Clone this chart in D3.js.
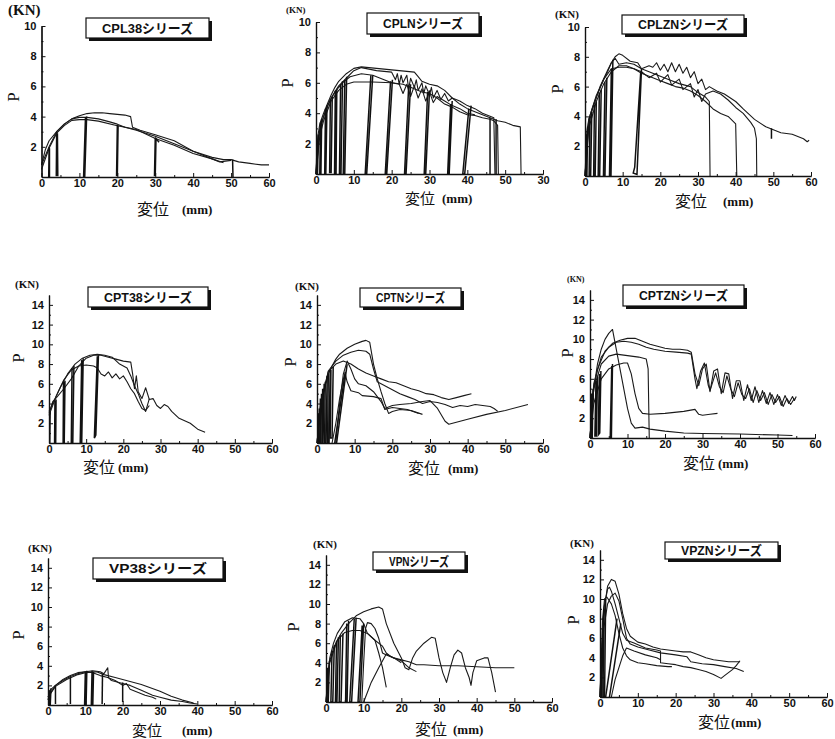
<!DOCTYPE html>
<html>
<head>
<meta charset="utf-8">
<script src="https://cdn.jsdelivr.net/npm/d3@7"></script>
<style>
  body { margin: 0; background: #fff; }
  svg { display: block; }
  .tick text { font-family: "Liberation Sans", Arial, sans-serif; font-weight: bold; font-size: 11px; fill: #111; }
  .domain, .tick line { stroke: #111; }
</style>
</head>
<body>
<svg id="viz"></svg>
<script>
  // curves are [x(mm), P(kN)], loops are the unload/reload strokes
  var xTickVals = [0, 10, 20, 30, 40, 50, 60];
  var xTickLabels = ["0", "10", "20", "30", "40", "50", "60"];
  var cplnXTickLabels = ["0", "10", "20", "30", "40", "50", "30"]; // misprint kept from the source
  var yTicks10 = [2, 4, 6, 8, 10];
  var yTicks14 = [2, 4, 6, 8, 10, 12, 14];
  var titles = ["CPL38シリーズ", "CPLNシリーズ", "CPLZNシリーズ", "CPT38シリーズ", "CPTNシリーズ", "CPTZNシリーズ", "VP38シリーズ", "VPNシリーズ", "VPZNシリーズ"];

  var cpl38Curves = [
    [[0,0.8],[1,1.8],[2,2.4],[4,3.0],[6,3.5],[8,3.85],[10,4.05],[12,4.2],[14,4.25],[16,4.25],[18,4.2],[20,4.15],[22,4.1],[23.5,4.0],[24,3.3],[26,3.1],[30,2.8],[35,2.4],[40,1.7],[45,1.3],[48,1.15],[50,1.15],[52,1.0],[55,0.9],[58,0.8],[60,0.8]],
    [[0,0.8],[2,2.0],[4,3.0],[6,3.5],[8,3.85],[10,3.95],[12,3.95],[15,3.85],[18,3.65],[20,3.5],[22,3.3],[25,3.1],[30,2.7],[35,2.2],[40,1.7],[45,1.2],[47,1.0],[50,1.1]],
    [[0,0.5],[2,1.9],[4,2.9],[6,3.4],[8,3.75],[10,3.8],[12,3.8],[15,3.7],[20,3.4],[25,3.15],[30,2.55],[35,2.1],[40,1.55],[45,1.2],[48,0.95]]
  ];
  var cpl38Loops = [
    [[2.0,1.95],[1.9,0],[2.1,0],[2.1,1.9]],
    [[4.0,3.0],[3.9,0.1],[4.3,0.1],[4.2,2.9]],
    [[11.6,3.95],[11.1,0],[11.4,0],[11.9,4.0]],
    [[20.0,3.45],[19.8,0.1],[20.0,0.1],[20.2,3.4]],
    [[30.0,2.6],[29.8,0.1],[30.0,0.1],[30.2,2.55],[31,2.3]],
    [[50.4,1.15],[50.5,0]]
  ];

  var cplnCurves = [
    [[0,0],[0.5,2.5],[1,3.3],[2,4.0],[3,4.6],[4,5.2],[5,5.7],[6,6.1],[8,6.6],[10,6.95],[12,7.05],[14,7.0],[16,6.95],[18,6.9],[20,6.85],[22,6.8],[24,6.75],[26,6.7],[27,6.4],[28,6.1],[30,5.9],[32,5.8],[34,5.5],[36,5.0],[38,4.6],[40,4.3],[42,4.1],[44,3.9],[46,3.7],[48,3.5],[50,3.4],[52,3.2],[54,3.1],[54.2,0]],
    [[0,0],[0.5,2.3],[2,3.8],[4,5.0],[6,5.8],[8,6.3],[10,6.8],[12,7.0],[14,6.9],[16,6.8],[18,6.75],[20,6.7],[21,6.2],[21.5,6.6],[22,5.9],[22.5,6.5],[23,6.0],[24,6.5],[24.5,5.6],[25,6.3],[26,5.7],[26.5,6.2],[27,5.5],[28,6.0],[28.5,5.3],[29,5.8],[30,5.2],[30.5,5.7],[31,5.0],[32,5.5],[33,4.9],[34,5.3],[35,4.8],[36,5.0],[38,4.8],[40,4.5],[42,4.3],[44,4.0],[46,3.8],[47,3.7],[47.3,0]],
    [[0,0],[1,3.0],[3,4.5],[5,5.4],[7,6.0],[9,6.4],[12,6.6],[15,6.5],[18,6.2],[20,6.0],[22,5.9],[23,5.3],[24,5.9],[25,5.1],[26,5.8],[27,5.0],[28,5.6],[29,4.8],[30,5.4],[31,4.7],[32,5.1],[34,4.8],[36,4.5],[38,4.3],[40,4.0],[42,3.9]],
    [[0,0],[1,2.5],[2,3.5],[4,4.8],[6,5.5],[8,5.9],[10,6.05],[15,6.05],[20,6.0],[23,5.9],[25,5.7],[28,5.4],[30,5.3],[32,5.0],[34,4.6],[36,4.4],[38,4.1],[40,3.9],[42,3.85],[44,3.7],[46,3.6],[47,3.5],[48,3.2],[48.2,0]]
  ];
  var cplnLoops = [
    [[0.3,2.2],[0.1,0],[0.4,0],[0.6,2.6]],
    [[1.2,3.4],[1.0,0],[1.3,0],[1.5,3.6]],
    [[2.5,4.3],[2.3,0],[2.6,0],[2.9,4.5]],
    [[3.8,4.9],[3.6,0.1],[4.0,0.1],[4.3,5.1]],
    [[5.1,5.5],[4.9,0],[5.3,0],[5.5,5.6]],
    [[6.5,5.9],[6.2,0],[6.6,0],[7.0,6.1]],
    [[7.6,6.2],[7.2,0],[7.6,0],[8.1,6.4]],
    [[14.5,6.5],[13.0,0],[13.4,0],[15.0,6.5]],
    [[19.7,6.1],[18.3,0],[18.7,0],[20.2,6.2]],
    [[24.5,5.8],[23.4,0],[23.8,0],[25.0,5.9]],
    [[29.5,5.4],[28.6,0],[29.0,0],[30.0,5.5]],
    [[35.6,4.6],[34.8,0],[35.2,0],[36.0,4.8]],
    [[40.4,4.3],[38.8,0],[39.3,0],[41.0,4.5]],
    [[46.0,3.7],[46.0,0]],
    [[47.6,3.6],[47.6,0]]
  ];

  var cplznCurves = [
    [[0,0],[0.5,3.0],[1,3.8],[2,4.6],[3,5.3],[4,5.9],[5,6.5],[6,7.0],[7,7.6],[8,8.0],[9,8.2],[10,8.1],[12,7.7],[14,7.6],[15,7.2],[17,7.0],[20,6.7],[22,6.5],[25,6.2],[28,6.0],[30,5.6],[32,5.3],[33,5.0],[33.2,0]],
    [[0,0],[1,3.5],[2,4.5],[4,6.0],[6,7.1],[7,7.6],[8,7.9],[9,7.5],[11,7.6],[13,7.5],[15,7.2],[17,7.4],[18,7.3],[19,7.6],[20,7.1],[21,7.5],[22,7.0],[23,7.6],[24,7.0],[25,7.5],[26,6.9],[27,7.3],[28,6.6],[29,7.0],[30,6.2],[31,6.5],[32,5.8],[33,6.0],[35,5.7],[37,5.5],[40,5.0],[42,4.5],[45,3.8],[48,3.3],[50,3.1],[52,2.9],[55,2.8],[58,2.5],[59,2.3],[59.5,2.4]],
    [[0,0],[1,3.8],[3,5.4],[5,6.5],[7,7.2],[9,7.3],[11,7.3],[13,7.2],[15,7.0],[17,6.6],[19,6.9],[20,6.3],[22,6.8],[23,6.1],[25,6.5],[26,5.8],[28,6.2],[29,5.3],[30,5.8],[31,5.0],[32,5.5],[34,5.7],[36,5.5],[38,5.1],[40,4.6],[42,4.2],[44,3.6],[45,3.2],[45.5,2.5],[45.6,0]],
    [[0,0],[1,3.2],[3,5.0],[5,6.2],[7,7.0],[9,7.4],[11,7.4],[13,7.2],[15,6.9],[18,6.6],[20,6.4],[22,6.2],[24,6.0],[26,5.9],[28,5.7],[30,5.4],[32,5.0],[34,4.5],[36,4.2],[38,4.0],[40,3.5],[40.3,0]]
  ];
  var cplznLoops = [
    [[0.3,2.8],[0.2,0],[0.5,0],[0.7,3.3]],
    [[1.3,4.0],[1.1,0],[1.5,0],[1.8,4.3]],
    [[2.5,4.8],[2.3,0],[2.7,0],[3.0,5.0]],
    [[3.8,5.6],[3.5,0],[3.9,0],[4.3,5.8]],
    [[5.3,6.3],[4.9,0],[5.3,0],[5.8,6.6]],
    [[7.0,7.2],[6.5,0],[6.9,0],[7.4,7.8]],
    [[14.8,7.0],[13.2,0.6],[12.8,0.2],[13.8,0.1],[15.0,7.2]],
    [[49.5,3.2],[49.5,2.5]]
  ];

  var cpt38Curves = [
    [[0,3.0],[0.5,3.5],[1,4.2],[2,4.6],[4,5.5],[6,6.5],[8,7.8],[10,8.6],[12,8.9],[14,8.9],[16,8.7],[18,8.5],[20,8.3],[22,8.2],[22.5,7.0],[23,5.5],[23.5,6.8],[24,5.2],[25,4.5],[26,5.6],[27,4.4],[28,4.5],[29,3.8],[30,3.5],[31,3.9],[32,3.7],[33,3.2],[35,2.5],[38,2.0],[40,1.4],[42,1.1]],
    [[0,3.2],[1,4.0],[3,5.6],[5,7.0],[7,8.0],[9,8.6],[11,8.9],[13,9.0],[15,8.9],[17,8.7],[19,8.0],[21,7.6],[22,6.8],[23,5.8],[24,5.0],[25,4.0],[26,3.2],[27,4.5]],
    [[0,2.8],[2,4.8],[4,6.4],[6,7.4],[8,7.8],[10,7.9],[12,7.8],[13,7.6],[14,7.0],[15,6.8],[16,7.2],[17,6.6],[18,7.0],[19,6.5],[20,6.8],[21,6.2],[22,5.5],[23,5.0],[24,4.2],[25,3.5],[26,3.3],[27,3.8]]
  ];
  var cpt38Loops = [
    [[0.2,0],[0.3,3.2]],
    [[1.6,4.3],[1.5,0],[1.8,0],[1.9,4.4]],
    [[3.9,6.2],[3.8,0],[4.1,0],[4.3,6.3]],
    [[6.2,7.6],[6.0,0],[6.4,0],[6.7,7.8]],
    [[8.8,8.4],[8.4,0],[8.8,0],[9.2,8.6]],
    [[13.0,8.8],[12.2,0.5],[12.6,0.8],[13.3,8.9]]
  ];

  var cptnCurves = [
    [[0,0],[1,3.5],[2,5.5],[3,7.0],[4,7.8],[5,8.5],[6,9.0],[8,9.6],[10,10.0],[12,10.3],[13,10.4],[14,10.2],[15,8.0],[16,6.5],[17,5.2],[18,4.0],[19,3.0],[20,3.2],[22,3.4],[25,3.3],[28,2.9]],
    [[0,0],[1,4],[3,7.3],[5,8.3],[7,8.9],[9,9.2],[11,9.4],[13,9.3],[14,9.0],[15,7.5],[16,6.2],[18,5.8],[20,5.4],[22,5.0],[24,4.7],[26,4.4],[28,4.0],[30,4.2],[32,4.1],[34,3.9],[36,3.6],[38,3.8],[40,3.7],[42,3.9],[44,3.8],[46,3.7],[47,3.5],[48,3.2]],
    [[0,0],[1,4],[3,7.2],[5,8.0],[7,8.3],[9,8.0],[11,7.5],[13,7.1],[15,6.8],[17,6.5],[19,6.2],[21,6.1],[23,5.8],[25,5.5],[27,5.3],[29,5.0],[31,4.9],[33,4.6],[35,4.4],[37,4.6],[39,4.8],[41,5.0]],
    [[5,0],[6,4],[7,7],[8,8.3],[9,7.5],[10,6.5],[11,6.0],[13,5.8],[15,5.2],[17,4.2],[18,3.5],[20,3.8],[22,3.9],[25,4.0],[28,4.2],[30,4.3],[32,3.5],[34,2.2],[35,1.9],[40,2.4],[45,2.9],[50,3.3],[55,3.8],[56,3.9]],
    [[4,0],[5,2],[6,4.5],[7,6.5],[7.5,7.0],[8,6.2],[9,5.3],[11,5.1],[12,4.8],[15,4.7],[17,4.5],[18,3.4],[20,3.6],[24,3.4],[27,3.0]]
  ];
  var cptnLoops = [
    [[0.3,3.0],[0.2,0],[0.5,0],[0.6,3.5]],
    [[0.9,4.5],[0.7,0],[1.0,0],[1.2,5.0]],
    [[1.5,5.5],[1.3,0],[1.6,0],[1.9,6.0]],
    [[2.2,6.2],[2.0,0],[2.4,0],[2.7,6.8]],
    [[3.0,7.0],[2.8,0],[3.2,0],[3.5,7.4]],
    [[3.7,7.4],[3.5,0.5],[4.0,0.5],[4.3,7.7]],
    [[4.7,0],[7.5,7.2]],
    [[5.2,0],[8.0,8.0]]
  ];

  var cptznCurves = [
    [[0,0],[1,5],[2,7.5],[3,9.0],[4,10],[5,10.6],[6,11.0],[7,9.0],[8,7.0],[9,5.0],[10,3.0],[11,1.5],[12,1.0],[14,1.1],[16,0.9],[20,0.7],[25,0.5],[30,0.45],[40,0.4],[50,0.3],[54,0.25]],
    [[0,0],[1,5],[2,7],[4,8.8],[6,9.6],[8,9.9],[10,10.1],[12,10.1],[14,9.8],[16,9.5],[18,9.3],[20,9.1],[22,9.0],[24,9.0],[26,8.9],[27,8.7],[28,6.5],[29,5.3],[30,7.0],[31,7.5],[32,4.7],[33,6.8],[34,7.0],[35,4.5],[36,6.6],[37,6.5],[38,4.0],[39,5.8],[40,5.8],[41,3.8],[42,5.4],[43,3.8],[44,5.2],[45,3.6],[46,4.8],[47,3.5],[48,4.6],[49,3.4],[50,4.4],[51,3.3],[52,4.3],[53,3.5],[54,4.2],[54.5,3.8],[55,4.2]],
    [[0,0],[1,5.5],[3,8.2],[5,9.2],[7,9.7],[9,9.8],[11,9.7],[13,9.5],[15,9.2],[17,9.0],[20,8.8],[23,8.7],[26,8.6],[27,8.5],[28,6.0],[28.5,5.0],[29.5,6.8],[30.5,7.6],[31.5,5.4],[32,4.8],[33.5,6.6],[34.5,5.2],[35.5,4.6],[36.5,6.3],[37.5,5.0],[38.5,4.2],[39.5,5.6],[40.5,4.4],[41.5,4.0],[42.5,5.0],[43.5,3.6],[44.5,4.8],[45.5,3.8],[46.5,4.6],[47.5,3.4],[48.5,4.4],[49.5,3.6],[50.5,4.2],[51.5,3.2],[52.5,4.0],[53.5,3.4],[54.5,4.0]],
    [[0,0],[1,5],[3,7.5],[5,8.3],[7,8.5],[9,8.4],[11,8.3],[13,8.2],[15,8.0],[15.5,7.0],[15.8,0]],
    [[0,0],[1,3.5],[3,6.0],[5,7.0],[7,7.4],[9,7.6],[10,7.6],[11,6.5],[12,4.5],[13,3.0],[14,2.5],[16,2.4],[20,2.5],[25,2.7],[28,2.9],[29,2.4],[30,2.3],[32,2.4],[34,2.5]]
  ];
  var cptznLoops = [
    [[0.4,4.5],[0.2,0],[0.6,0],[0.8,5]],
    [[1.6,5.8],[1.3,0.2],[1.7,0.2],[2.0,6.2]],
    [[2.5,6.5],[2.2,0.3],[2.6,0.5],[2.9,6.8]],
    [[5.8,7.3],[5.4,0],[5.7,0],[6.0,7.5]]
  ];

  var vp38Curves = [
    [[0,0.5],[0.5,1.5],[2,2.0],[4,2.5],[6,2.9],[8,3.2],[10,3.4],[12,3.5],[14,3.4],[15,3.2],[16,3.8],[16.2,2.8],[17,2.5],[18,2.4],[20,2.2],[22,2.0],[25,1.5],[28,1.0],[30,0.8],[33,0.5],[36,0.35],[38,0.2],[40,0.1]],
    [[0,0.8],[2,2.0],[4,2.6],[6,3.0],[8,3.3],[10,3.4],[12,3.3],[14,3.0],[16,2.8],[18,2.5],[20,2.0],[21,2.2],[22,1.6],[24,1.3],[26,1.0],[28,0.8],[29,0.6]],
    [[0,0.8],[2,1.9],[5,2.6],[8,3.1],[10,3.3],[13,3.4],[15,3.1],[18,2.8],[20,2.6],[25,2.1],[30,1.4],[33,0.9],[36,0.5],[39,0.2]]
  ];
  var vp38Loops = [
    [[0.5,1.5],[0.3,0],[0.6,0],[0.8,1.7]],
    [[2.0,2.0],[2.0,0.1]],
    [[6.0,2.9],[6.0,0.1]],
    [[10.0,3.4],[9.8,0],[10.2,0],[10.4,3.5]],
    [[11.8,3.5],[11.6,0],[12.0,0],[12.2,3.4]],
    [[14.6,3.2],[14.5,0.1]],
    [[20.0,2.3],[20.0,0.3]]
  ];

  var vpnCurves = [
    [[0,0],[0.5,3],[1,4.2],[2,5.5],[3,6.3],[4,7.0],[6,8.0],[8,8.8],[10,9.2],[12,9.5],[14,9.7],[15,9.5],[16,8.0],[18,6.0],[20,4.5],[21,3.5],[22,3.3],[23,4.5],[24,5.2],[26,6.0],[28,6.6],[29,6.5],[30,4.5],[31,3.0],[32,2.0],[33,3.5],[34,4.8],[35,5.3],[36,5.0],[37,3.5],[38,2.5],[38.5,1.7],[39,3.0],[40,4.2],[42,4.5],[43,4.5],[44,3.0],[45,1.0]],
    [[0,0],[1,4.5],[2,6.0],[3,7.0],[5,8.2],[7,8.6],[9,8.5],[10,8.0],[11,7.0],[13,6.3],[15,5.7],[16,5.0],[17,4.7],[18,4.5],[20,4.3],[22,4.1],[24,3.8],[26,3.8],[30,3.7],[35,3.7],[40,3.6],[45,3.5],[50,3.5]],
    [[9.5,0],[10,4.0],[10.5,7.5],[11,8.1],[12,8.0],[13,7.5],[14,6.5],[15,5.0],[16,4.8],[18,4.5],[20,4.2],[22,3.5],[24,3.1]],
    [[0,0],[1,4],[3,6.3],[5,7.1],[7,7.3],[9,7.3],[11,7.0],[13,6.3],[14,5.0],[15,3.5],[16,1.5]],
    [[10,0],[11,1.0],[12,2.0],[14,3.5],[16,4.9],[18,4.5],[20,4.0]]
  ];
  var vpnLoops = [
    [[0.4,3.5],[0.2,0],[0.6,0],[0.9,4.2]],
    [[1.6,5.2],[1.3,0],[1.8,0],[2.2,5.8]],
    [[2.8,6.2],[2.5,0],[2.9,0],[3.3,6.6]],
    [[3.8,6.8],[3.5,0],[4.0,0],[4.5,7.0]],
    [[5.5,8.0],[5.2,0],[5.6,0],[6.0,8.3]],
    [[7.5,8.5],[6.3,0],[6.8,0],[8.0,8.6]],
    [[9.6,7.8],[8.5,0],[9.0,0],[10.0,8.0]]
  ];

  var vpznCurves = [
    [[0,0],[0.5,5],[1,8],[1.5,10],[2,11.3],[3,12.0],[4,11.8],[5,10.5],[6,8.5],[7,7.0],[8,6.2],[10,5.6],[12,5.4],[14,5.1],[16,4.9],[18,4.8],[20,4.7],[22,4.6],[24,4.6],[26,4.3],[28,4.0],[30,3.8],[32,3.7],[34,3.6],[36,3.6],[37,3.6]],
    [[0,0],[1,9],[2,11],[2.5,11.2],[3,10.8],[4,9.5],[5,8.0],[6,6.5],[7,5.8],[9,5.5],[12,5.0],[15,4.8],[16,4.7],[16,3.5],[18,3.4],[20,3.3],[22,3.1],[24,3.0],[26,2.8],[28,2.6],[30,2.3],[32,1.9],[33,2.2],[35,2.8],[36,3.2],[37,3.7]],
    [[0,0],[1,7],[2,9.5],[3,10.3],[4,10.6],[5,9.8],[6,8.0],[7,6.0],[8,5.4],[10,5.1],[13,4.8],[16,4.5],[20,4.3],[23,4.1],[24,3.6],[27,3.4],[30,3.3],[33,3.1],[36,2.9],[38,2.6]],
    [[0,0],[0.7,8],[1.2,10],[1.8,10.2],[3,9.5],[4,8.3],[5,6.5],[6,5.0],[7,4.2],[8,3.8],[10,3.5],[12,3.4],[15,3.2],[18,3.1],[19,3.1]],
    [[3,0],[4,1.8],[5,3.0],[6,4.2],[7,5.0],[9,4.7],[12,4.3],[15,4.0],[16,3.8]]
  ];
  var vpznLoops = [
    [[0.3,5],[0.2,0],[0.5,0],[0.7,7]],
    [[1.0,9],[0.8,0],[1.2,0],[1.5,10]],
    [[1.5,0],[4.5,8.0]],
    [[2.5,0],[5.5,7.5]]
  ];

  // layout of the 9 little plots (pixel positions only)
  // box: x, y, w, h ; kn: x, y, size ; p: x, y ; xl: x of 変位, baseline, x of (mm), font size
  var panels = [
    {curves: cpl38Curves, loops: cpl38Loops, yTop: 10, yTicks: yTicks10, xLabels: xTickLabels,
     left: 41.5, right: 269, bottom: 177, top: 26, box: [86, 18, 123, 20], kn: [8, 15, 15], p: [13, 97], xl: [137, 215, 182, 16]},
    {curves: cplnCurves, loops: cplnLoops, yTop: 10, yTicks: yTicks10, xLabels: cplnXTickLabels,
     left: 316, right: 543, bottom: 174, top: 22, box: [367, 13, 112, 21], kn: [286, 13, 9], p: [287, 83], xl: [405, 204, 442, 15]},
    {curves: cplznCurves, loops: cplznLoops, yTop: 10, yTicks: yTicks10, xLabels: xTickLabels,
     left: 585, right: 811, bottom: 176, top: 27, box: [622, 15, 122, 19], kn: [555, 18, 11], p: [557, 89], xl: [675, 207, 723, 16]},
    {curves: cpt38Curves, loops: cpt38Loops, yTop: 15, yTicks: yTicks14, xLabels: xTickLabels,
     left: 49, right: 272, bottom: 443, top: 295, box: [88, 287, 120, 20], kn: [15, 288, 11], p: [18, 358], xl: [83, 473, 118, 16]},
    {curves: cptnCurves, loops: cptnLoops, yTop: 15, yTicks: yTicks14, xLabels: xTickLabels,
     left: 317, right: 543, bottom: 443, top: 295, box: [360, 288, 101, 19], kn: [295, 290, 11], p: [290, 362], xl: [408, 474, 448, 16]},
    {curves: cptznCurves, loops: cptznLoops, yTop: 15, yTicks: yTicks14, xLabels: xTickLabels,
     left: 590, right: 815, bottom: 438, top: 290, box: [623, 285, 121, 21], kn: [567, 282, 8], p: [567, 353], xl: [683, 469, 718, 16]},
    {curves: vp38Curves, loops: vp38Loops, yTop: 15, yTicks: yTicks14, xLabels: xTickLabels,
     left: 48, right: 272, bottom: 705, top: 558, box: [93, 558, 130, 21], kn: [28, 552, 11], p: [18, 635], xl: [132, 736, 182, 15]},
    {curves: vpnCurves, loops: vpnLoops, yTop: 15, yTicks: yTicks14, xLabels: xTickLabels,
     left: 326, right: 552, bottom: 702, top: 555, box: [373, 552, 92, 18], kn: [313, 548, 11], p: [293, 627], xl: [415, 735, 453, 16]},
    {curves: vpznCurves, loops: vpznLoops, yTop: 15, yTicks: yTicks14, xLabels: xTickLabels,
     left: 600, right: 827, bottom: 697, top: 550, box: [665, 542, 113, 17], kn: [570, 547, 11], p: [573, 620], xl: [698, 728, 731, 16]}
  ];

  var svgW = 835, svgH = 739;
  var svg = d3.select("#viz").attr("width", svgW).attr("height", svgH);

  panels.forEach(function (pn, i) { drawPanel(pn, titles[i]); });

  function drawPanel(pn, title) {
    var x = d3.scaleLinear().domain([0, 60]).range([pn.left, pn.right]);
    var y = d3.scaleLinear().domain([0, pn.yTop]).range([pn.bottom, pn.top]);
    var g = svg.append("g");

    var line = d3.line().x(function (d) { return x(d[0]); }).y(function (d) { return y(d[1]); });

    g.selectAll("path.curve").data(pn.curves).enter()
      .append("path").attr("class", "curve")
      .attr("d", line).attr("fill", "none")
      .attr("stroke", "#1a1a1a").attr("stroke-width", 1.1).attr("stroke-linejoin", "round");

    g.selectAll("path.loop").data(pn.loops).enter()
      .append("path").attr("class", "loop")
      .attr("d", line).attr("fill", "none")
      .attr("stroke", "#111").attr("stroke-width", 1.5);

    // minor ticks first, then the labelled ones
    var minorY = d3.range(1, pn.yTop, 2);
    g.append("g").attr("transform", "translate(" + pn.left + ",0)")
      .call(d3.axisLeft(y).tickValues(minorY).tickSizeInner(-2).tickSizeOuter(0).tickFormat(""));
    g.append("g").attr("transform", "translate(" + pn.left + ",0)")
      .call(d3.axisLeft(y).tickValues(pn.yTicks).tickSizeInner(-4).tickSizeOuter(0).tickPadding(5))
      .select(".domain").attr("stroke-width", 1.4);

    g.append("g").attr("transform", "translate(0," + pn.bottom + ")")
      .call(d3.axisBottom(x).tickValues([5, 15, 25, 35, 45, 55]).tickSizeInner(-2).tickSizeOuter(0).tickFormat(""));
    g.append("g").attr("transform", "translate(0," + pn.bottom + ")")
      .call(d3.axisBottom(x).tickValues(xTickVals).tickSizeInner(-4).tickSizeOuter(0).tickPadding(2)
        .tickFormat(function (d, k) { return pn.xLabels[k]; }))
      .select(".domain").attr("stroke-width", 1.4);

    // title box with its shadow
    var b = pn.box;
    g.append("rect").attr("x", b[0] + 3).attr("y", b[1] + 3).attr("width", b[2]).attr("height", b[3]).attr("fill", "#111");
    g.append("rect").attr("x", b[0]).attr("y", b[1]).attr("width", b[2]).attr("height", b[3])
      .attr("fill", "#fff").attr("stroke", "#111").attr("stroke-width", 1.2);
    g.append("text").attr("x", b[0] + b[2] / 2).attr("y", b[1] + b[3] / 2 + 4.5)
      .attr("text-anchor", "middle")
      .attr("textLength", b[2] - 32).attr("lengthAdjust", "spacingAndGlyphs")
      .style("font-family", "'Liberation Sans', 'Noto Sans CJK JP', sans-serif")
      .style("font-size", "13px").style("font-weight", "bold").attr("fill", "#111")
      .text(title);

    g.append("text").attr("x", pn.kn[0]).attr("y", pn.kn[1])
      .style("font-family", "'Liberation Serif', serif").style("font-size", pn.kn[2] + "px")
      .style("font-weight", "bold").attr("fill", "#111").text("(KN)");

    g.append("text").attr("transform", "translate(" + pn.p[0] + "," + pn.p[1] + ") rotate(-90)")
      .attr("text-anchor", "middle").attr("dy", "0.35em")
      .style("font-family", "'Liberation Serif', serif").style("font-size", "17px").attr("fill", "#111")
      .text("P");

    g.append("text").attr("x", pn.xl[0]).attr("y", pn.xl[1])
      .style("font-family", "'Noto Sans CJK JP', sans-serif").style("font-size", pn.xl[3] + "px").attr("fill", "#111")
      .text("変位");
    g.append("text").attr("x", pn.xl[2]).attr("y", pn.xl[1] - 1)
      .style("font-family", "'Liberation Serif', serif").style("font-size", "13px").style("font-weight", "bold")
      .attr("fill", "#111").text("(mm)");
  }
</script>
</body>
</html>
